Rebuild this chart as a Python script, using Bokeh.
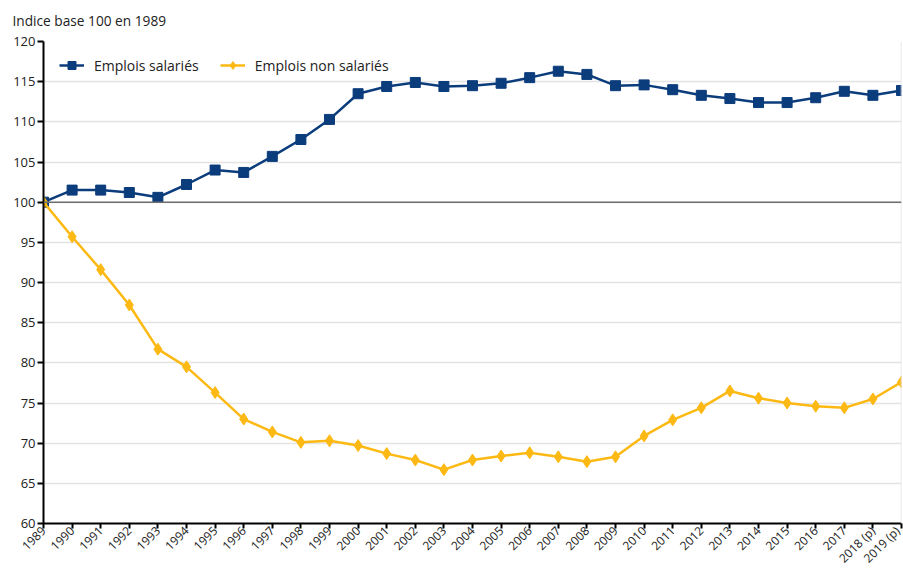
import math
from bokeh.plotting import figure
from bokeh.models import Range1d, FixedTicker, Span, Legend, LegendItem, ColumnDataSource, Title
from bokeh.embed import file_html
from bokeh.resources import INLINE

years = list(range(1989, 2020))
year_labels = [str(y) for y in range(1989, 2018)] + ["2018 (p)", "2019 (p)"]
salaries = [100.0, 101.5, 101.5, 101.2, 100.6, 102.2, 104.0, 103.7, 105.7, 107.8,
            110.3, 113.5, 114.4, 114.9, 114.4, 114.5, 114.8, 115.5, 116.3, 115.9,
            114.5, 114.6, 114.0, 113.3, 112.9, 112.4, 112.4, 113.0, 113.8, 113.3, 113.9]
non_salaries = [100.0, 95.7, 91.6, 87.2, 81.7, 79.5, 76.3, 73.0, 71.4, 70.1,
                70.3, 69.7, 68.7, 67.9, 66.7, 67.9, 68.4, 68.8, 68.3, 67.7,
                68.3, 70.9, 72.9, 74.4, 76.5, 75.6, 75.0, 74.6, 74.4, 75.5, 77.6]
y_ticks = list(range(60, 121, 5))

FONT = "Open Sans"
NAVY = "#0b3c7c"
YELLOW = "#fdb913"

src = ColumnDataSource(dict(x=years, s=salaries, n=non_salaries))

p = figure(width=903, height=575, output_backend="svg", toolbar_location=None,
           x_range=Range1d(1989, 2019), y_range=Range1d(60, 120),
           min_border_left=43, min_border_right=2, min_border_top=41, min_border_bottom=51,
           background_fill_color="white", border_fill_color="white")
p.outline_line_color = None

p.title.text = "Indice base 100 en 1989"
p.title.text_font = FONT
p.title.text_font_size = "13.7px"
p.title.text_font_style = "normal"
p.title.text_color = "#222222"
p.title.align = "left"
p.title.offset = -31
p.title.standoff = 2

# blank spacer between title and frame
p.add_layout(Title(text=" ", text_font_size="8px", standoff=0), "above")

# axes
p.xaxis.ticker = FixedTicker(ticks=years)
p.xaxis.major_label_overrides = {y: l for y, l in zip(years, year_labels)}
p.xaxis.major_label_orientation = math.pi / 4
p.yaxis.ticker = FixedTicker(ticks=y_ticks)
for ax in (p.xaxis, p.yaxis):
    ax.axis_line_color = "black"
    ax.axis_line_width = 2
    ax.major_tick_line_color = "black"
    ax.major_tick_line_width = 2
    ax.major_tick_in = 0
    ax.major_tick_out = 6
    ax.minor_tick_line_color = None
    ax.major_label_text_font = FONT
    ax.major_label_text_font_size = "13px"
    ax.major_label_text_color = "#222222"
p.xaxis.major_label_text_font_size = "12px"
p.xaxis.major_tick_out = 5
p.yaxis.major_label_standoff = 2
p.xaxis.major_label_standoff = 0

p.xgrid.grid_line_color = None
p.ygrid.grid_line_color = "#e3e3e3"
p.ygrid.grid_line_width = 1.5

p.add_layout(Span(location=2019, dimension="height", line_color="#e3e3e3", line_width=1.5))
p.add_layout(Span(location=100, dimension="width", line_color="#6e6e6e", line_width=1.5))

l1 = p.line("x", "s", source=src, line_color=NAVY, line_width=2.5)
m1 = p.scatter("x", "s", source=src, marker="square", size=10, fill_color=NAVY, line_color=NAVY)
l2 = p.line("x", "n", source=src, line_color=YELLOW, line_width=2.5)
m2 = p.scatter("x", "n", source=src, marker="diamond", size=12, fill_color=YELLOW, line_color=YELLOW)

legend = Legend(items=[LegendItem(label="Emplois salariés", renderers=[l1, m1]),
                       LegendItem(label="Emplois non salariés", renderers=[l2, m2])],
                orientation="horizontal", location=(16, 448))
legend.border_line_color = None
legend.background_fill_alpha = 0
legend.label_text_font = FONT
legend.label_text_font_size = "14px"
legend.label_text_color = "#222222"
legend.glyph_width = 25
legend.glyph_height = 20
legend.label_height = 20
legend.label_standoff = 10
legend.spacing = 21
legend.padding = 5
legend.margin = 0
p.add_layout(legend, "center")

open("out.html", "w").write(file_html(p, INLINE))
